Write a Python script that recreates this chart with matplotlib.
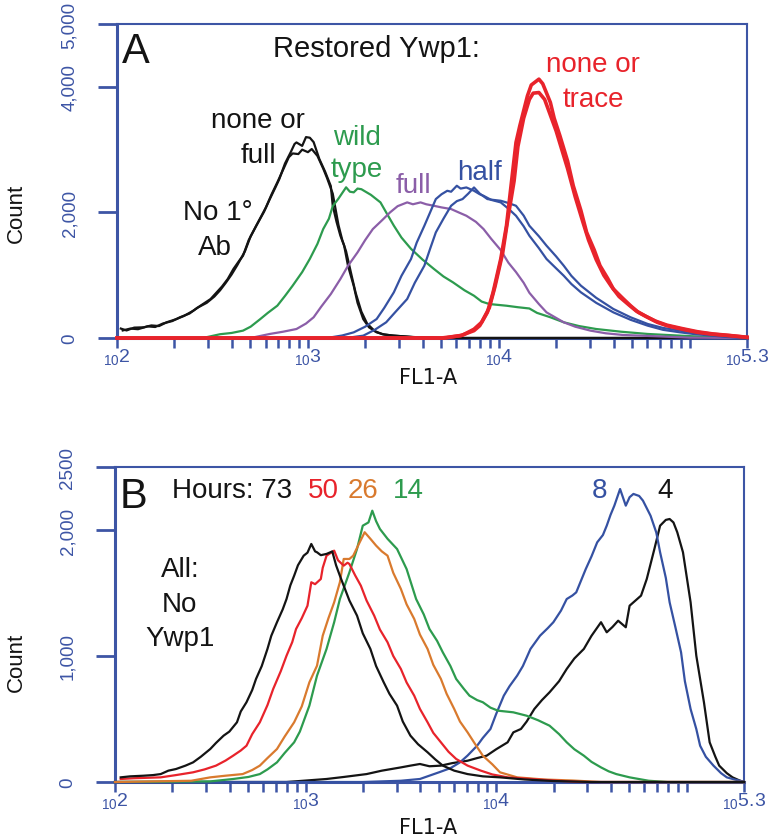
"""FL1-A flow cytometry histograms: (A) restored Ywp1, (B) hours without Ywp1."""

import matplotlib
matplotlib.use("Agg")
import matplotlib.pyplot as plt
import numpy as np
from matplotlib.ticker import FixedLocator, NullFormatter

AXIS_BLUE = "#3d55a5"
BLACK = "#141414"
GREEN = "#2d9b4e"
PURPLE = "#8b5ea8"
BLUE = "#3551a2"
RED = "#e8232b"
ORANGE = "#d97a2e"

NARROW = ["Liberation Sans Narrow", "Liberation Sans", "DejaVu Sans"]
SANS = ["Liberation Sans", "DejaVu Sans"]

# x values are log10(FL1-A), y values are counts

# ---- panel A ----
a_black1_x = [2.02, 2.05, 2.09, 2.14, 2.18, 2.22, 2.26, 2.31, 2.35, 2.40, 2.44, 2.49, 2.52, 2.55, 2.58,
              2.61, 2.64, 2.66, 2.69, 2.73, 2.77, 2.80, 2.83, 2.85, 2.88, 2.91, 2.93, 2.94, 2.97, 2.99,
              3.01, 3.03, 3.06, 3.09, 3.12, 3.13, 3.15, 3.17, 3.19, 3.21, 3.24, 3.26, 3.29, 3.32, 3.36,
              3.40, 3.45, 3.55, 3.70, 5.30]
a_black1_y = [150, 120, 165, 170, 200, 190, 250, 300, 350, 435, 520, 620, 720, 820, 940,
              1100, 1230, 1310, 1560, 1790, 2010, 2210, 2400, 2530, 2780, 2960, 3090, 3115, 3060, 3200,
              3190, 3120, 2850, 2650, 2420, 2110, 1850, 1630, 1470, 1150, 830, 560, 300, 170, 90,
              55, 37, 15, 0, 0]

a_black2_x = [2.03, 2.07, 2.11, 2.16, 2.20, 2.24, 2.29, 2.33, 2.38, 2.42, 2.47, 2.51, 2.54, 2.57, 2.60,
              2.63, 2.67, 2.70, 2.74, 2.78, 2.81, 2.84, 2.87, 2.90, 2.92, 2.95, 2.97, 3.00, 3.02, 3.05,
              3.08, 3.10, 3.13, 3.16, 3.18, 3.20, 3.23, 3.25, 3.28, 3.31, 3.35, 3.39, 3.44, 3.55, 3.70,
              5.30]
a_black2_y = [120, 150, 140, 185, 175, 230, 270, 330, 390, 480, 560, 660, 760, 880, 1010,
              1160, 1380, 1620, 1850, 2080, 2290, 2480, 2680, 2880, 2940, 2930, 3000, 2960, 3010, 2900,
              2700, 2550, 2300, 1800, 1560, 1380, 980, 720, 420, 230, 110, 60, 40, 15, 0,
              0]

a_wt_x = [2.00, 2.45, 2.54, 2.60, 2.66, 2.70, 2.75, 2.79, 2.84, 2.88, 2.92, 2.97, 3.01, 3.05, 3.08,
          3.11, 3.13, 3.16, 3.20, 3.22, 3.24, 3.26, 3.28, 3.33, 3.38, 3.41, 3.45, 3.49, 3.54, 3.60,
          3.66, 3.71, 3.76, 3.82, 3.87, 3.91, 3.95, 4.04, 4.10, 4.16, 4.20, 4.27, 4.34, 4.42, 4.51,
          4.64, 4.78, 4.95, 5.10, 5.30]
a_wt_y = [0, 0, 60, 80, 117, 180, 300, 400, 515, 670, 833, 1050, 1260, 1500, 1735,
          1900, 2100, 2220, 2400, 2330, 2320, 2380, 2370, 2280, 2160, 2000, 1790, 1600, 1420, 1250,
          1100, 980, 886, 760, 673, 580, 541, 514, 490, 470, 400, 330, 250, 190, 143,
          100, 64, 37, 15, 0]

a_full_x = [2.00, 2.70, 2.80, 2.87, 2.94, 2.99, 3.03, 3.07, 3.12, 3.17, 3.21, 3.26, 3.30, 3.34, 3.39,
            3.43, 3.47, 3.52, 3.55, 3.59, 3.62, 3.66, 3.70, 3.75, 3.79, 3.83, 3.88, 3.92, 3.96, 4.01,
            4.05, 4.09, 4.13, 4.16, 4.21, 4.25, 4.30, 4.34, 4.40, 4.48, 4.56, 4.65, 4.83, 5.00, 5.30]
a_full_y = [0, 0, 64, 100, 143, 230, 330, 500, 700, 939, 1150, 1364, 1560, 1735, 1880,
            2000, 2100, 2160, 2130, 2160, 2130, 2106, 2080, 2054, 2000, 1947, 1850, 1735, 1580, 1400,
            1200, 1050, 880, 720, 540, 408, 320, 250, 180, 117, 75, 48, 27, 5, 0]

a_half1_x = [2.00, 3.10, 3.18, 3.24, 3.30, 3.36, 3.40, 3.45, 3.49, 3.54, 3.57, 3.61, 3.64, 3.67, 3.70,
             3.73, 3.75, 3.78, 3.80, 3.83, 3.87, 3.90, 3.92, 3.96, 4.01, 4.05, 4.09, 4.13, 4.16, 4.21,
             4.25, 4.30, 4.34, 4.38, 4.43, 4.51, 4.60, 4.69, 4.78, 4.86, 4.95, 5.03, 5.12, 5.20, 5.30]
a_half1_y = [0, 0, 40, 90, 180, 302, 480, 727, 990, 1258, 1520, 1788, 2000, 2213, 2290,
             2345, 2330, 2425, 2380, 2398, 2345, 2290, 2265, 2200, 2160, 2060, 1947, 1780, 1629, 1430,
             1258, 1110, 992, 860, 727, 560, 408, 290, 196, 130, 90, 60, 37, 15, 0]

a_half2_x = [2.00, 3.20, 3.29, 3.35, 3.41, 3.46, 3.52, 3.56, 3.61, 3.64, 3.67, 3.71, 3.75, 3.78, 3.81,
             3.84, 3.87, 3.90, 3.94, 3.97, 4.01, 4.05, 4.09, 4.13, 4.16, 4.21, 4.25, 4.30, 4.34, 4.38,
             4.43, 4.51, 4.60, 4.69, 4.78, 4.86, 4.95, 5.03, 5.12, 5.20, 5.30]
a_half2_y = [0, 0, 37, 130, 250, 420, 621, 880, 1152, 1420, 1682, 1900, 2106, 2180, 2213,
             2300, 2398, 2300, 2213, 2200, 2186, 2150, 2106, 1950, 1788, 1620, 1470, 1300, 1152, 990,
             833, 640, 462, 330, 223, 160, 117, 80, 48, 20, 0]

a_trace1_x = [2.00, 3.70, 3.80, 3.87, 3.90, 3.94, 3.97, 4.01, 4.04, 4.06, 4.09, 4.11, 4.15, 4.17, 4.21,
              4.23, 4.27, 4.29, 4.32, 4.36, 4.39, 4.43, 4.46, 4.50, 4.53, 4.57, 4.60, 4.65, 4.69, 4.73,
              4.78, 4.83, 4.88, 4.96, 5.04, 5.12, 5.21, 5.30]
a_trace1_y = [0, 0, 37, 117, 196, 408, 727, 1258, 1788, 2319, 3115, 3380, 3858, 4030, 4123,
              4050, 3752, 3500, 3221, 2820, 2425, 2030, 1682, 1400, 1152, 950, 780, 630, 514, 410,
              329, 250, 196, 140, 90, 60, 37, 10]

a_trace2_x = [2.00, 3.72, 3.81, 3.87, 3.91, 3.95, 3.98, 4.02, 4.05, 4.08, 4.10, 4.13, 4.16, 4.18, 4.21,
              4.24, 4.27, 4.30, 4.33, 4.36, 4.40, 4.44, 4.47, 4.51, 4.55, 4.59, 4.63, 4.68, 4.72, 4.77,
              4.82, 4.88, 4.96, 5.04, 5.12, 5.21, 5.30]
a_trace2_y = [0, 0, 45, 140, 250, 480, 820, 1350, 1950, 2500, 3050, 3500, 3800, 3900, 3910,
              3800, 3550, 3300, 3000, 2700, 2250, 1850, 1560, 1250, 1000, 820, 660, 530, 430, 345,
              270, 205, 150, 100, 65, 40, 12]

# ---- panel B (hours) ----
b_h73_x = [2.03, 2.08, 2.15, 2.20, 2.24, 2.28, 2.32, 2.37, 2.41, 2.45, 2.50, 2.53, 2.57, 2.60, 2.64,
           2.66, 2.69, 2.72, 2.74, 2.77, 2.80, 2.82, 2.85, 2.88, 2.90, 2.92, 2.94, 2.96, 2.99, 3.01,
           3.03, 3.05, 3.06, 3.08, 3.11, 3.13, 3.14, 3.16, 3.18, 3.20, 3.23, 3.27, 3.30, 3.34, 3.37,
           3.41, 3.44, 3.48, 3.51, 3.55, 3.59, 3.64, 3.68, 3.72, 3.78, 3.85, 3.93, 4.02, 4.15, 4.30,
           4.50, 5.30]
b_h73_y = [37, 45, 50, 55, 63, 90, 103, 130, 156, 200, 262, 310, 368, 400, 474,
           560, 633, 730, 818, 920, 1056, 1160, 1268, 1370, 1452, 1560, 1637, 1720, 1796, 1820,
           1889, 1830, 1823, 1800, 1810, 1823, 1830, 1720, 1637, 1558, 1440, 1320, 1180, 1056, 920,
           791, 700, 606, 480, 368, 300, 236, 180, 130, 90, 63, 45, 37, 20, 8,
           0, 0]

b_h50_x = [2.03, 2.10, 2.24, 2.32, 2.41, 2.47, 2.53, 2.58, 2.62, 2.66, 2.69, 2.72, 2.76, 2.80, 2.83,
           2.87, 2.90, 2.93, 2.95, 2.98, 3.01, 3.03, 3.05, 3.08, 3.09, 3.11, 3.15, 3.17, 3.20, 3.22,
           3.23, 3.26, 3.29, 3.32, 3.36, 3.39, 3.43, 3.46, 3.50, 3.53, 3.57, 3.60, 3.64, 3.67, 3.71,
           3.75, 3.79, 3.85, 3.92, 3.98, 4.06, 4.18, 4.30, 4.45, 5.30]
b_h50_y = [24, 30, 37, 55, 77, 100, 130, 170, 209, 250, 288, 380, 474, 610, 738,
           880, 1002, 1110, 1214, 1300, 1399, 1585, 1570, 1611, 1700, 1796, 1836, 1760, 1717, 1740,
           1730, 1640, 1558, 1440, 1320, 1210, 1109, 1000, 897, 790, 685, 580, 474, 390, 315,
           240, 183, 130, 90, 60, 37, 24, 12, 0, 0]

b_h26_x = [2.00, 2.40, 2.50, 2.58, 2.67, 2.72, 2.76, 2.80, 2.85, 2.89, 2.94, 2.98, 3.02, 3.06, 3.09,
           3.12, 3.15, 3.18, 3.20, 3.23, 3.25, 3.28, 3.31, 3.34, 3.37, 3.40, 3.43, 3.46, 3.50, 3.53,
           3.57, 3.60, 3.64, 3.67, 3.71, 3.74, 3.78, 3.81, 3.85, 3.89, 3.93, 3.98, 4.02, 4.11, 4.25,
           4.40, 4.55, 5.30]
b_h26_y = [0, 10, 37, 50, 63, 95, 130, 190, 262, 360, 474, 600, 791, 923, 1161,
           1300, 1426, 1585, 1770, 1770, 1796, 1890, 1982, 1930, 1876, 1830, 1796, 1660, 1532, 1410,
           1294, 1170, 1056, 930, 818, 700, 579, 480, 394, 300, 209, 140, 77, 37, 20,
           12, 0, 0]

b_h14_x = [2.00, 2.50, 2.62, 2.70, 2.76, 2.80, 2.85, 2.89, 2.94, 2.97, 3.02, 3.06, 3.11, 3.15, 3.18,
           3.23, 3.27, 3.30, 3.33, 3.35, 3.37, 3.39, 3.43, 3.48, 3.53, 3.58, 3.62, 3.65, 3.69, 3.72,
           3.76, 3.79, 3.83, 3.86, 3.90, 3.93, 3.97, 4.01, 4.09, 4.16, 4.22, 4.28, 4.33, 4.37, 4.41,
           4.46, 4.50, 4.55, 4.59, 4.63, 4.70, 4.80, 4.90, 5.30]
b_h14_y = [0, 5, 24, 40, 63, 100, 156, 230, 315, 400, 606, 844, 1056, 1268, 1452,
           1664, 1850, 2034, 2060, 2153, 2070, 2008, 1930, 1849, 1690, 1452, 1330, 1214, 1120, 1029,
           920, 818, 740, 685, 650, 633, 590, 566, 553, 526, 490, 447, 380, 315, 260,
           209, 160, 116, 85, 63, 37, 10, 0, 0]

b_h8_x = [2.00, 3.30, 3.50, 3.60, 3.70, 3.76, 3.81, 3.85, 3.90, 3.93, 3.97, 4.00, 4.04, 4.07, 4.11,
          4.14, 4.18, 4.23, 4.27, 4.30, 4.34, 4.37, 4.40, 4.42, 4.47, 4.50, 4.53, 4.56, 4.58, 4.60,
          4.62, 4.65, 4.68, 4.70, 4.72, 4.75, 4.77, 4.81, 4.84, 4.86, 4.89, 4.91, 4.94, 4.97, 4.99,
          5.02, 5.05, 5.07, 5.10, 5.14, 5.18, 5.21, 5.25, 5.28, 5.30]
b_h8_y = [0, 0, 10, 24, 77, 110, 156, 210, 288, 350, 421, 540, 685, 760, 844,
          920, 1056, 1161, 1220, 1268, 1360, 1452, 1480, 1505, 1690, 1790, 1902, 1960, 2034, 2120,
          2193, 2325, 2193, 2260, 2286, 2270, 2233, 2113, 1980, 1823, 1620, 1426, 1230, 1029, 800,
          579, 420, 288, 200, 130, 70, 37, 20, 10, 0]

b_h4_x = [2.00, 2.90, 3.11, 3.20, 3.32, 3.40, 3.50, 3.55, 3.60, 3.65, 3.71, 3.77, 3.85, 3.90, 3.95,
          4.00, 4.06, 4.09, 4.13, 4.16, 4.20, 4.24, 4.28, 4.33, 4.37, 4.41, 4.46, 4.50, 4.55, 4.58,
          4.61, 4.64, 4.68, 4.70, 4.76, 4.79, 4.83, 4.86, 4.89, 4.91, 4.93, 4.95, 4.98, 5.02, 5.05,
          5.09, 5.12, 5.15, 5.17, 5.21, 5.24, 5.28, 5.30]
b_h4_y = [0, 0, 24, 40, 63, 90, 116, 130, 143, 125, 130, 150, 169, 190, 209,
          260, 315, 394, 421, 480, 579, 650, 712, 800, 897, 980, 1056, 1160, 1268, 1188,
          1230, 1280, 1228, 1399, 1479, 1611, 1849, 2034, 2080, 2087, 2060, 1982, 1823, 1426, 1002,
          633, 315, 200, 130, 70, 37, 10, 0]

# axis ticks
x_major_exp = [2, 3, 4, 5, 5.3]
x_major_labels = ["2", "3", "4", None, "5.3"]
a_yticks = [0, 2000, 4000, 5000]
a_ylabels = ["0", "2,000", "4,000", "5,000"]
b_yticks = [0, 1000, 2000, 2500]
b_ylabels = ["0", "1,000", "2,000", "2500"]


def curve(ax, xs, ys, color, lw=1.6):
    ax.plot(10 ** np.asarray(xs), ys, color=color, linewidth=lw, zorder=3, clip_on=False,
            solid_joinstyle="round")


def style_axes(ax, yticks, ylabels, ymax):
    ax.set_xscale("log")
    ax.set_xlim(1e2, 10 ** 5.3)
    ax.set_ylim(0, ymax)
    for side, spine in ax.spines.items():
        spine.set_color(AXIS_BLUE)
        spine.set_linewidth(2.2 if side in ("left", "bottom") else 1.5)

    ax.xaxis.set_major_locator(FixedLocator([10 ** e for e in x_major_exp]))
    labels = []
    for lab in x_major_labels:
        labels.append("" if lab is None else r"$\mathregular{{}_{10}%s}$" % lab)
    ax.set_xticklabels(labels)
    minor = [k * 10 ** d for d in (2, 3, 4) for k in range(2, 10)]
    ax.xaxis.set_minor_locator(FixedLocator(minor))
    ax.xaxis.set_minor_formatter(NullFormatter())
    ax.tick_params(axis="x", which="both", direction="out", length=7, width=1.8,
                   color=AXIS_BLUE, labelcolor=AXIS_BLUE, labelsize=14, pad=-1)

    ax.set_yticks(yticks)
    ax.set_yticklabels(ylabels, rotation=90, va="center", family=NARROW)
    ax.tick_params(axis="y", direction="out", length=14, width=2.0, color=AXIS_BLUE,
                   labelcolor=AXIS_BLUE, labelsize=13.5, pad=14)


plt.rcParams["font.family"] = SANS
plt.rcParams["mathtext.fontset"] = "custom"
plt.rcParams["mathtext.rm"] = "Liberation Sans"

fig = plt.figure(figsize=(7.8, 8.37), dpi=100)
ax_a = fig.add_axes([0.150, 0.595, 0.8077, 0.375])
ax_b = fig.add_axes([0.1474, 0.0645, 0.8064, 0.3764])

# ---- panel A ----
style_axes(ax_a, a_yticks, a_ylabels, 5000)
curve(ax_a, a_black1_x, a_black1_y, BLACK)
curve(ax_a, a_black2_x, a_black2_y, BLACK)
curve(ax_a, a_wt_x, a_wt_y, GREEN)
curve(ax_a, a_full_x, a_full_y, PURPLE)
curve(ax_a, a_half1_x, a_half1_y, BLUE)
curve(ax_a, a_half2_x, a_half2_y, BLUE)
curve(ax_a, a_trace2_x, a_trace2_y, RED, lw=2.6)
curve(ax_a, a_trace1_x, a_trace1_y, RED, lw=2.6)

tA = ax_a.transAxes
ax_a.text(0.008, 0.879, "A", transform=tA, fontsize=30, color=BLACK, va="baseline")
ax_a.text(0.248, 0.898, "Restored Ywp1:", transform=tA, fontsize=21, color=BLACK, va="baseline")
for txt, x, y, c in [("none or", 0.224, 0.672, BLACK), ("full", 0.224, 0.561, BLACK),
                     ("No 1°", 0.160, 0.379, BLACK), ("Ab", 0.156, 0.268, BLACK),
                     ("wild", 0.381, 0.618, GREEN), ("type", 0.381, 0.516, GREEN),
                     ("full", 0.470, 0.465, PURPLE), ("half", 0.575, 0.506, BLUE),
                     ("none or", 0.756, 0.850, RED), ("trace", 0.756, 0.739, RED)]:
    ax_a.text(x, y, txt, transform=tA, fontsize=20, color=c, ha="center", va="baseline")

# ---- panel B ----
style_axes(ax_b, b_yticks, b_ylabels, 2500)
curve(ax_b, b_h4_x, b_h4_y, BLACK)
curve(ax_b, b_h8_x, b_h8_y, BLUE)
curve(ax_b, b_h14_x, b_h14_y, GREEN)
curve(ax_b, b_h26_x, b_h26_y, ORANGE)
curve(ax_b, b_h50_x, b_h50_y, RED)
curve(ax_b, b_h73_x, b_h73_y, BLACK)

tB = ax_b.transAxes
ax_b.text(0.008, 0.873, "B", transform=tB, fontsize=30, color=BLACK, va="baseline")
for txt, x, c in [("Hours: 73", 0.0906, BLACK), ("50", 0.307, RED), ("26", 0.370, ORANGE),
                  ("14", 0.442, GREEN), ("8", 0.758, BLUE), ("4", 0.862, BLACK)]:
    ax_b.text(x, 0.905, txt, transform=tB, fontsize=20, color=c, va="baseline")
for txt, y in [("All:", 0.654), ("No", 0.543), ("Ywp1", 0.435)]:
    ax_b.text(0.103, y, txt, transform=tB, fontsize=20, color=BLACK, ha="center", va="baseline")

# axis titles
for ycen in (0.7455, 0.209):
    fig.text(0.021, ycen, "Count", rotation=90, ha="center", va="center", fontsize=16,
             family=NARROW, color=BLACK)
for ycen in (0.548, 0.0108):
    fig.text(0.549, ycen, "FL1-A", ha="center", va="center", fontsize=15, color=BLACK,
             family=["DejaVu Sans"])

fig.savefig("out.png", dpi=100)
